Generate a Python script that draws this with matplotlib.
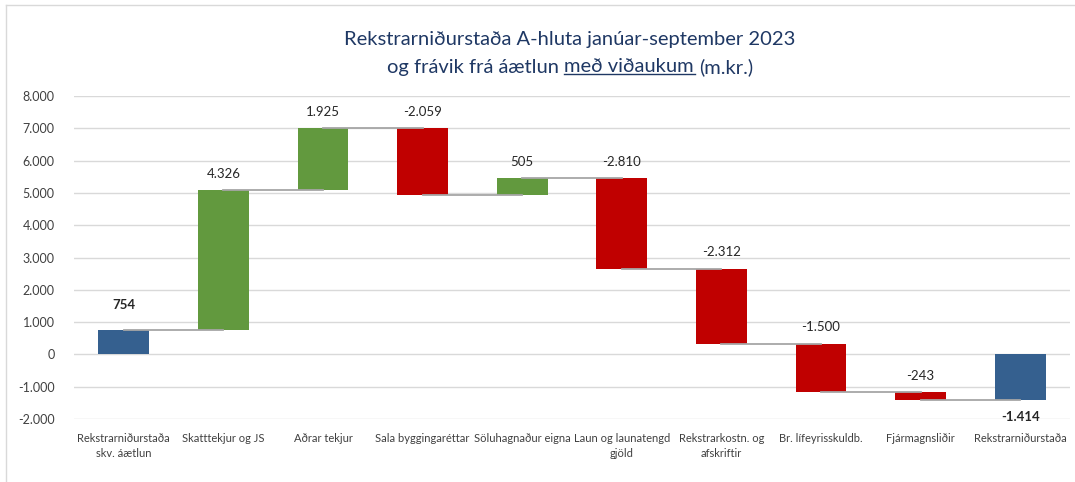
import matplotlib
matplotlib.use('Agg')
import matplotlib.pyplot as plt
from matplotlib.lines import Line2D

# waterfall data (m.kr.)
categories = ['Rekstrarniðurstaða\nskv. áætlun', 'Skatttekjur og JS', 'Aðrar tekjur',
              'Sala byggingaréttar', 'Söluhagnaður eigna', 'Laun og launatengd\ngjöld',
              'Rekstrarkostn. og\nafskriftir', 'Br. lífeyrisskuldb.', 'Fjármagnsliðir',
              'Rekstrarniðurstaða']
start_value = 754
changes = [4326, 1925, -2059, 505, -2810, -2312, -1500, -243]
end_value = -1414
yticks = [-2000, -1000, 0, 1000, 2000, 3000, 4000, 5000, 6000, 7000, 8000]

BLUE = '#35608F'
GREEN = '#62993E'
RED = '#C00000'
TITLE_C = '#1F3864'


def fmt(v):
    return f'{v:,.0f}'.replace(',', '.')


plt.rcParams['font.family'] = ['Lato', 'DejaVu Sans']

fig = plt.figure(figsize=(10.75, 4.82), dpi=100)
ax = fig.add_axes([0.0688, 0.1307, 0.9265, 0.670])

# build bars
bottoms, heights, colors, values, ends = [], [], [], [], []
bottoms.append(0); heights.append(start_value); colors.append(BLUE)
values.append(start_value); ends.append(start_value)
level = start_value
for c in changes:
    new = level + c
    bottoms.append(min(level, new)); heights.append(abs(c))
    colors.append(GREEN if c > 0 else RED)
    values.append(c); ends.append(new)
    level = new
bottoms.append(0); heights.append(end_value); colors.append(BLUE)
values.append(end_value); ends.append(end_value)

x = list(range(len(categories)))
ax.bar(x, heights, bottom=bottoms, width=0.51, color=colors, zorder=2)

# connectors
for i in range(len(x) - 1):
    ax.plot([x[i], x[i + 1]], [ends[i], ends[i]], color='#A6A6A6', lw=1.3, zorder=3)

# value labels
for i, v in enumerate(values):
    bold = i == 0 or i == len(values) - 1
    if i == len(values) - 1:
        y = min(bottoms[i], bottoms[i] + heights[i]); off = -12
    else:
        y = max(bottoms[i], bottoms[i] + heights[i]); off = 18 if i == 0 else 12
    ax.annotate(fmt(v), (x[i], y), xytext=(0, off), textcoords='offset points',
                ha='center', va='center', fontsize=9.5, color='#262626',
                fontweight='bold' if bold else 'normal')

ax.set_xlim(-0.5, len(x) - 0.5)
ax.set_ylim(-2000, 8000)
ax.set_yticks(yticks)
ax.set_yticklabels([fmt(t) for t in yticks], fontsize=9, color='#404040')
ax.set_xticks(x)
ax.set_xticklabels(categories, fontsize=8, color='#404040', linespacing=1.5)
ax.tick_params(length=0, axis='y', pad=14)
ax.tick_params(length=0, axis='x', pad=10)
ax.grid(axis='y', color='#D9D9D9', lw=1, zorder=0)
ax.set_axisbelow(True)
for s in ax.spines.values():
    s.set_visible(False)

# title, with underlined part on line 2
fig.text(0.530, 1 - 40 / 482, 'Rekstrarniðurstaða A-hluta janúar-september 2023',
         ha='center', va='center', fontsize=14.5, color=TITLE_C)
parts = ['og frávik frá áætlun ', 'með viðaukum ', '(m.kr.)']
fig.canvas.draw()
r = fig.canvas.get_renderer()
y2 = 1 - 67 / 482
texts = [fig.text(0, y2, p, ha='left', va='center', fontsize=14.5, color=TITLE_C) for p in parts]
widths = [t.get_window_extent(r).width for t in texts]
xpos = 570 - sum(widths) / 2
for t, w in zip(texts, widths):
    t.set_x(xpos / 1075)
    xpos += w
ext = texts[1].get_window_extent(r)
uy = (ext.y0 + 2) / 482
fig.add_artist(Line2D([ext.x0 / 1075, (ext.x1 - 4) / 1075], [uy, uy], color=TITLE_C, lw=1))

# chart frame
fig.add_artist(Line2D([6 / 1075, 6 / 1075], [0, 1 - 5 / 482], color='#D9D9D9', lw=1))
fig.add_artist(Line2D([6 / 1075, 1], [1 - 5 / 482, 1 - 5 / 482], color='#D9D9D9', lw=1))

fig.savefig('out.png', dpi=100)
